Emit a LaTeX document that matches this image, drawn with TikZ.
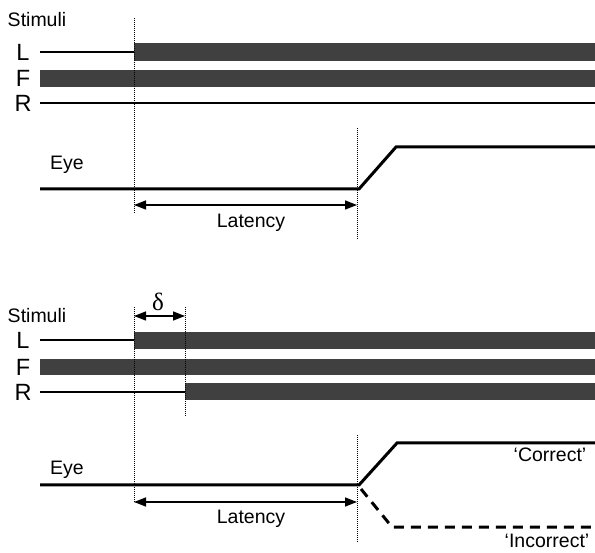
\documentclass[tikz,border=0pt]{standalone}
\usepackage{fontspec}
\setmainfont{Liberation Sans}
\newfontfamily\greekfont{Liberation Serif}
\usetikzlibrary{arrows.meta}
\definecolor{barfill}{gray}{0.25}
\tikzset{
  lbl/.style={font=\fontsize{19.5}{19.5}\selectfont, inner sep=0pt},
  chan/.style={font=\fontsize{23.5}{23.5}\selectfont, inner sep=0pt},
  thinline/.style={line width=1.1pt},
  bar/.style={fill=barfill, draw=none},
  eyeline/.style={line width=3pt, line join=miter},
  guide/.style={line width=0.9pt, dash pattern=on 1pt off 1pt},
  meas/.style={line width=1.4pt, {Triangle[length=12pt,width=9pt]}-{Triangle[length=12pt,width=9pt]}},
  wrong/.style={line width=3pt, dash pattern=on 10pt off 7pt}
}
\begin{document}
\begin{tikzpicture}[x=1pt,y=-1pt]
\useasboundingbox (0,0) rectangle (595,553);
% ---------------- top panel ----------------
\node[lbl] (s1) at (37,20) {Stimuli};
\node[chan] (l1) at (23,52) {L};
\node[chan] (f1) at (23,78) {F};
\node[chan] (r1) at (23,103) {R};
\coordinate (l1a) at (40,52); \coordinate (l1b) at (134,52);
\draw[thinline] (l1a) -- (l1b);
\fill[bar] (134,43) rectangle (595,61);
\fill[bar] (40,70) rectangle (595,87);
\coordinate (r1a) at (40,103); \coordinate (r1b) at (595,103);
\draw[thinline] (r1a) -- (r1b);
\coordinate (g1t) at (134,18); \coordinate (g1b) at (134,213);
\coordinate (g2t) at (357,128); \coordinate (g2b) at (357,240);
\draw[guide] (g1t) -- (g1b);
\draw[guide] (g2t) -- (g2b);
\node[lbl] (e1) at (67,165) {Eye};
\coordinate (e1a) at (40,189); \coordinate (e1b) at (359,189);
\coordinate (e1c) at (396,147); \coordinate (e1d) at (595,147);
\draw[eyeline] (e1a) -- (e1b) -- (e1c) -- (e1d);
\coordinate (lat1a) at (134,205); \coordinate (lat1b) at (357,205);
\draw[meas] (lat1a) -- (lat1b);
\node[lbl] (lat1) at (251,223) {Latency};
% ---------------- bottom panel ----------------
\coordinate (da) at (134,316); \coordinate (db) at (185,316);
\draw[meas] (da) -- (db);
\node[inner sep=0pt, font=\greekfont\fontsize{25}{25}\selectfont] (delta) at (158,302) {δ};
\node[lbl] (s2) at (37,316) {Stimuli};
\node[chan] (l2) at (23,340) {L};
\node[chan] (f2) at (23,367) {F};
\node[chan] (r2) at (23,392) {R};
\coordinate (l2a) at (40,340); \coordinate (l2b) at (134,340);
\draw[thinline] (l2a) -- (l2b);
\fill[bar] (134,332) rectangle (595,349);
\fill[bar] (40,359) rectangle (595,375);
\coordinate (r2a) at (40,392); \coordinate (r2b) at (185,392);
\draw[thinline] (r2a) -- (r2b);
\fill[bar] (185,383) rectangle (595,400);
\coordinate (g3t) at (134,307); \coordinate (g3b) at (134,502);
\coordinate (g4t) at (185,307); \coordinate (g4b) at (185,417);
\coordinate (g5t) at (357,435); \coordinate (g5b) at (357,543);
\draw[guide] (g3t) -- (g3b);
\draw[guide] (g4t) -- (g4b);
\draw[guide] (g5t) -- (g5b);
\node[lbl] (e2) at (67,470) {Eye};
\coordinate (e2a) at (40,485); \coordinate (e2b) at (359,485);
\coordinate (e2c) at (397,443); \coordinate (e2d) at (595,443);
\draw[eyeline] (e2a) -- (e2b) -- (e2c) -- (e2d);
\coordinate (w1) at (361,489); \coordinate (w2) at (392,527); \coordinate (w3) at (595,527);
\draw[wrong] (w1) -- (w2) -- (w3);
\coordinate (lat2a) at (134,502); \coordinate (lat2b) at (357,502);
\draw[meas] (lat2a) -- (lat2b);
\node[lbl] (lat2) at (251,519) {Latency};
\node[lbl] (corr) at (550,455) {‘Correct’};
\node[lbl] (inc) at (547,541) {‘Incorrect’};
\end{tikzpicture}
\end{document}
